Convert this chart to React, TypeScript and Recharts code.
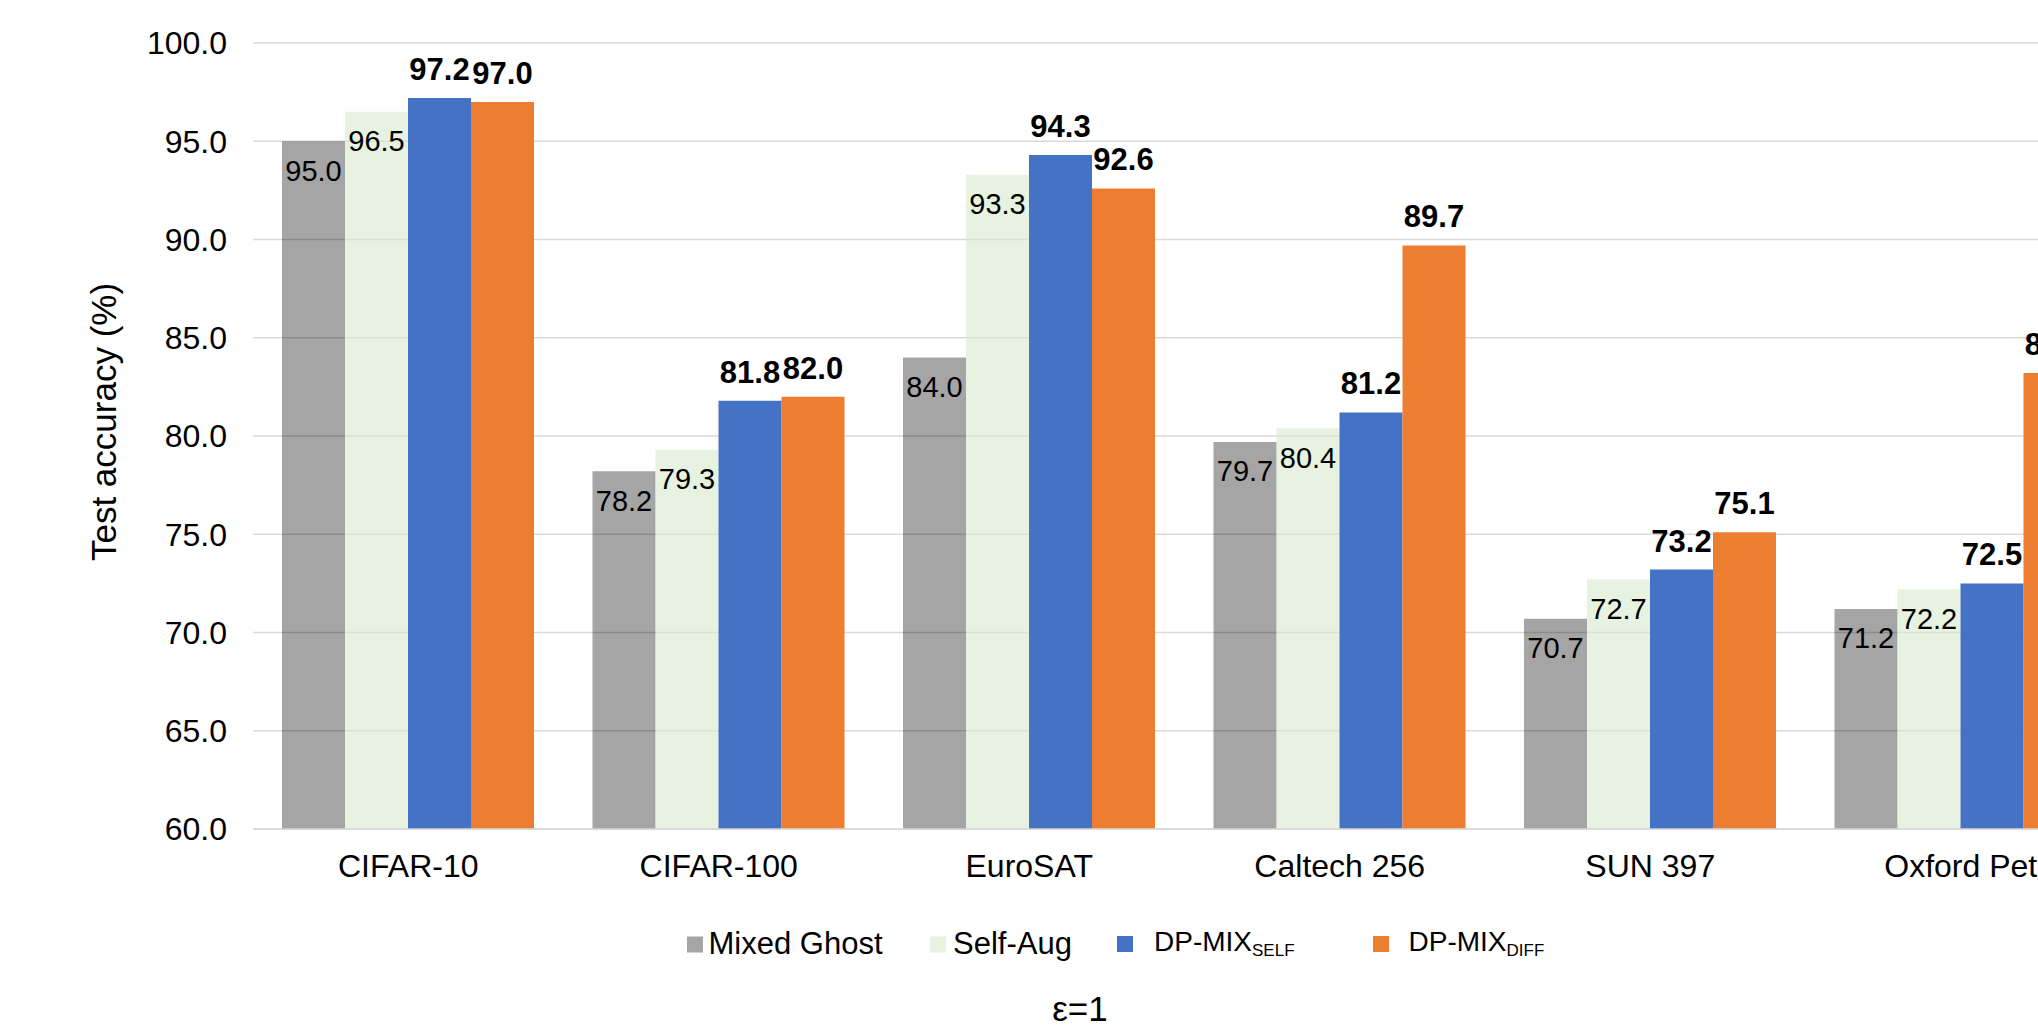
import { Bar, BarChart, CartesianGrid, LabelList, Legend, XAxis, YAxis } from 'recharts';

const categories = ['CIFAR-10', 'CIFAR-100', 'EuroSAT', 'Caltech 256', 'SUN 397', 'Oxford Pet'];
const mixedGhost = [95.0, 78.2, 84.0, 79.7, 70.7, 71.2];
const selfAug = [96.5, 79.3, 93.3, 80.4, 72.7, 72.2];
const dpMixSelf = [97.2, 81.8, 94.3, 81.2, 73.2, 72.5];
const dpMixDiff = [97.0, 82.0, 92.6, 89.7, 75.1, 83.2];
const yTicks = [60, 65, 70, 75, 80, 85, 90, 95, 100];
const legendLabels = [
  { main: 'Mixed Ghost', sub: '' },
  { main: 'Self-Aug', sub: '' },
  { main: 'DP-MIX', sub: 'SELF' },
  { main: 'DP-MIX', sub: 'DIFF' },
];
const xTitle = 'ε=1';
const yTitle = 'Test accuracy (%)';

const data = categories.map((name, i) => ({
  name,
  mixedGhost: mixedGhost[i],
  selfAug: selfAug[i],
  dpMixSelf: dpMixSelf[i],
  dpMixDiff: dpMixDiff[i],
}));

const FONT = '"Liberation Sans", Arial, sans-serif';
// gray + light green are a bit see-through in the original (grid shows through them)
const fills = ['#000', 'rgb(215,233,203)', '#4472C4', '#ED7D31'];
const opacities = [0.353, 0.6, 1, 1];

const InsideLabel = (props: any) => {
  const x = Number(props.x);
  const y = Number(props.y);
  const w = Number(props.width);
  return (
    <text x={x + w / 2} y={y + 39.5} textAnchor="middle" fontSize={29} fontFamily={FONT} fill="#000">
      {Number(props.value).toFixed(1)}
    </text>
  );
};

const TopLabel = (props: any) => {
  const x = Number(props.x);
  const y = Number(props.y);
  const w = Number(props.width);
  return (
    <text x={x + w / 2} y={y - 18} textAnchor="middle" fontSize={31} fontWeight="bold" fontFamily={FONT} fill="#000">
      {Number(props.value).toFixed(1)}
    </text>
  );
};

// legend + the "ε=1" caption, drawn as one svg strip under the plot
const LegendStrip = () => {
  const rectX = [687, 930, 1117, 1373];
  const textX = [708.5, 953, 1154, 1408.5];
  return (
    <svg width={2140} height={127} style={{ display: 'block' }}>
      {legendLabels.map((lab, i) => {
        const small = lab.sub !== '';
        return (
          <g key={i}>
            <rect x={rectX[i]} y={small ? 36 : 36.5} width={16} height={16} fill={fills[i]} fillOpacity={opacities[i]} />
            <text x={textX[i]} y={small ? 50.7 : 54.3} fontSize={small ? 28 : 31} fontFamily={FONT} fill="#000">
              {lab.main}
              {small && (
                <tspan fontSize={17} dy={5}>
                  {lab.sub}
                </tspan>
              )}
            </text>
          </g>
        );
      })}
      <text x={1080} y={121} textAnchor="middle" fontSize={35} fontFamily={FONT} fill="#000">
        {xTitle}
      </text>
    </svg>
  );
};

const App = () => {
  return (
    <div style={{ position: 'fixed', left: 0, top: 0, width: 2038, height: 1027, overflow: 'hidden', background: '#fff' }}>
      <BarChart
        width={2140}
        height={1027}
        data={data}
        margin={{ top: 43, right: 24, left: 0, bottom: 148 }}
        barCategoryGap={29}
        barGap={0}
      >
        <CartesianGrid vertical={false} stroke="#D9D9D9" strokeWidth={1.5} />
        <XAxis
          dataKey="name"
          height={50}
          tickLine={false}
          axisLine={{ stroke: '#D9D9D9', strokeWidth: 1.5 }}
          tickMargin={19}
          tick={{ fontSize: 32, fontFamily: FONT, fill: '#000' }}
          interval={0}
        />
        <YAxis
          width={253}
          domain={[60, 100]}
          ticks={yTicks}
          allowDataOverflow
          axisLine={false}
          tickLine={false}
          tickMargin={20}
          tickFormatter={(v: number) => v.toFixed(1)}
          tick={{ fontSize: 32, fontFamily: FONT, fill: '#000' }}
          label={() => (
            <text
              x={116}
              y={422}
              transform="rotate(-90 116 422)"
              textAnchor="middle"
              fontSize={35}
              fontFamily={FONT}
              fill="#000"
            >
              {yTitle}
            </text>
          )}
        />
        <Legend
          verticalAlign="middle"
          align="center"
          wrapperStyle={{ top: 900, left: 0, width: 2140, height: 127 }}
          content={LegendStrip}
        />
        <Bar dataKey="mixedGhost" name="Mixed Ghost" fill={fills[0]} fillOpacity={opacities[0]} isAnimationActive={false}>
          <LabelList dataKey="mixedGhost" content={InsideLabel} />
        </Bar>
        <Bar dataKey="selfAug" name="Self-Aug" fill={fills[1]} fillOpacity={opacities[1]} isAnimationActive={false}>
          <LabelList dataKey="selfAug" content={InsideLabel} />
        </Bar>
        <Bar dataKey="dpMixSelf" name="DP-MIX SELF" fill={fills[2]} isAnimationActive={false}>
          <LabelList dataKey="dpMixSelf" content={TopLabel} />
        </Bar>
        <Bar dataKey="dpMixDiff" name="DP-MIX DIFF" fill={fills[3]} isAnimationActive={false}>
          <LabelList dataKey="dpMixDiff" content={TopLabel} />
        </Bar>
      </BarChart>
    </div>
  );
};

export default App;
